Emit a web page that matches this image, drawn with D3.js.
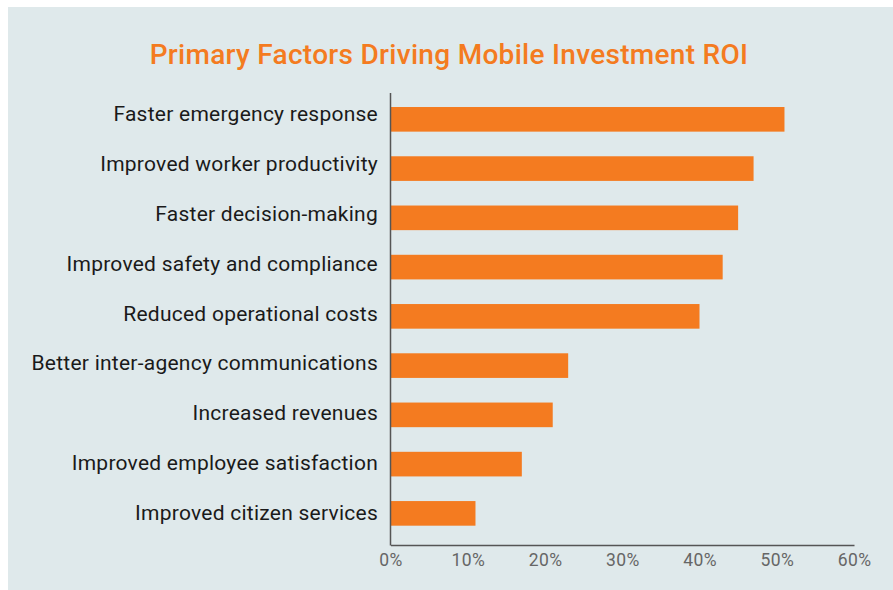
<!DOCTYPE html>
<html>
<head>
<meta charset="utf-8">
<script src="https://cdn.jsdelivr.net/npm/d3@7"></script>
<style>
  html, body { margin: 0; padding: 0; background: #ffffff; }
  svg { display: block; }
</style>
</head>
<body>
<svg id="chart" width="893" height="590"></svg>
<script>
// Share of respondents naming each factor
const factors = [
  "Faster emergency response",
  "Improved worker productivity",
  "Faster decision-making",
  "Improved safety and compliance",
  "Reduced operational costs",
  "Better inter-agency communications",
  "Increased revenues",
  "Improved employee satisfaction",
  "Improved citizen services"
];
const shares = [51, 47, 45, 43, 40, 23, 21, 17, 11];
const tickValues = [0, 10, 20, 30, 40, 50, 60];
const title = "Primary Factors Driving Mobile Investment ROI";

const svg = d3.select("#chart");
const W = 893, H = 590;
const orange = "#f47b20";
const font = "Roboto, 'Open Sans', sans-serif";

// background panel
svg.append("rect")
  .attr("x", 8).attr("y", 7)
  .attr("width", W - 8).attr("height", H - 7)
  .attr("fill", "#dfe9eb");

svg.append("text")
  .attr("x", 449).attr("y", 64)
  .attr("text-anchor", "middle")
  .attr("font-family", font)
  .attr("font-weight", 500)
  .attr("font-size", 28)
  .attr("letter-spacing", 0.3)
  .attr("fill", orange)
  .text(title);

const x0 = 390.5, x1 = 854;
const x = d3.scaleLinear().domain([0, 60]).range([x0, x1]);
const y = d3.scaleBand().domain(factors).range([94.7, 538]).paddingInner(0.5).paddingOuter(0.25);
// label baselines sit on their own slightly wider rhythm
const yLabel = d3.scalePoint().domain(factors).range([121, 520]);

svg.append("g").selectAll("rect")
  .data(factors)
  .join("rect")
  .attr("x", x(0))
  .attr("y", d => y(d))
  .attr("width", (d, i) => x(shares[i]) - x(0))
  .attr("height", y.bandwidth())
  .attr("fill", orange);

// category labels
svg.append("g").selectAll("text")
  .data(factors)
  .join("text")
  .attr("x", 378)
  .attr("y", d => yLabel(d))
  .attr("text-anchor", "end")
  .attr("font-family", font)
  .attr("font-size", 21)
  .attr("letter-spacing", 0.25)
  .attr("fill", "#1a1a1a")
  .text(d => d);

// axis lines
svg.append("line")
  .attr("x1", x0).attr("x2", x0)
  .attr("y1", 93).attr("y2", 545.5)
  .attr("stroke", "#555").attr("stroke-width", 1.5);

const xAxis = d3.axisBottom(x)
  .tickValues(tickValues)
  .tickFormat(d => d + "%")
  .tickSize(0)
  .tickPadding(9);

const gx = svg.append("g")
  .attr("transform", "translate(0,545)")
  .call(xAxis);
gx.select(".domain").attr("stroke", "#555").attr("stroke-width", 1.5);
gx.selectAll("text")
  .attr("font-family", font)
  .attr("font-size", 17.5)
  .attr("letter-spacing", 0.4)
  .attr("fill", "#666");
</script>
</body>
</html>
